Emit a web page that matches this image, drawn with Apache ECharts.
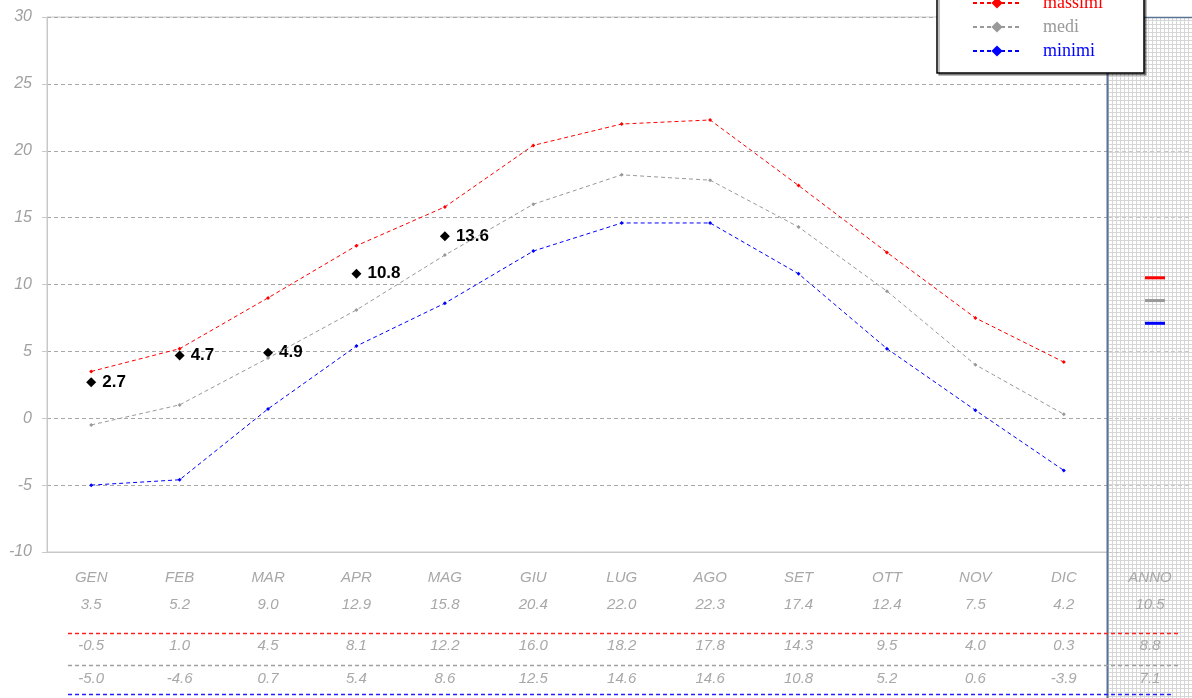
<!DOCTYPE html>
<html>
<head>
<meta charset="utf-8">
<script src="https://cdn.jsdelivr.net/npm/echarts@6/dist/echarts.min.js"></script>
<style>html,body{margin:0;padding:0;background:#fff;}#c{width:1192px;height:698px;}</style>
</head>
<body>
<div id="c"></div>
<script>
var months = ['GEN','FEB','MAR','APR','MAG','GIU','LUG','AGO','SET','OTT','NOV','DIC'];
var massimi = [3.5, 5.2, 9.0, 12.9, 15.8, 20.4, 22.0, 22.3, 17.4, 12.4, 7.5, 4.2];
var medi    = [-0.5, 1.0, 4.5, 8.1, 12.2, 16.0, 18.2, 17.8, 14.3, 9.5, 4.0, 0.3];
var minimi  = [-5.0, -4.6, 0.7, 5.4, 8.6, 12.5, 14.6, 14.6, 10.8, 5.2, 0.6, -3.9];
var extra   = [2.7, 4.7, 4.9, 10.8, 13.6];
var annoLabel = ['ANNO'];
var annoMassimi = [10.5];
var annoMedi = [8.8];
var annoMinimi = [7.1];

var pc = document.createElement('canvas');
pc.width = 4; pc.height = 4;
var pctx = pc.getContext('2d');
pctx.fillStyle = '#ffffff'; pctx.fillRect(0,0,4,4);
pctx.fillStyle = '#d6d6d6'; pctx.fillRect(0,0,4,1); pctx.fillRect(0,0,1,4);

var lblFont = {color:'#a8a8a8', fontStyle:'italic', fontSize:15, fontFamily:'Liberation Sans, Arial, sans-serif'};
function rowAxis(grid, cats, fmt, margin){
  return {type:'category', gridIndex:grid, position:'bottom', data:cats, boundaryGap:true,
    axisLine:{show:false, onZero:false}, axisTick:{show:false}, splitLine:{show:false},
    axisLabel:Object.assign({interval:0, margin:margin, formatter:fmt}, lblFont)};
}
function f1(arr){ return function(v,i){ return arr[i].toFixed(1); }; }

var chart = echarts.init(document.getElementById('c'));
chart.setOption({
  animation:false,
  backgroundColor:'#fff',
  graphic:[
    {type:'rect', z:-10, shape:{x:1107, y:17, width:85, height:681}, style:{fill:{image:pc, repeat:'repeat'}}},
    {type:'line', z:1, shape:{x1:1107.5, y1:17, x2:1107.5, y2:698}, style:{stroke:'#5b7393', lineWidth:2}},
    {type:'line', z:1, shape:{x1:1107, y1:17.5, x2:1192, y2:17.5}, style:{stroke:'#5b7393', lineWidth:1.5}},
    {type:'line', z:1, shape:{x1:68, y1:633.5, x2:1180, y2:633.5}, style:{stroke:'#ff2020', lineWidth:1.5, lineDash:[4,3]}},
    {type:'line', z:1, shape:{x1:68, y1:665.5, x2:1180, y2:665.5}, style:{stroke:'#a0a0a0', lineWidth:1.5, lineDash:[4,3]}},
    {type:'line', z:1, shape:{x1:68, y1:694.5, x2:1172, y2:694.5}, style:{stroke:'#2020ff', lineWidth:1.5, lineDash:[4,3]}}
  ],
  legend:{
    orient:'vertical', right:48, top:-16, z:20,
    padding:[10,41,13,35], itemGap:6, itemWidth:48, itemHeight:14,
    backgroundColor:'#fff', borderColor:'#000', borderWidth:1.5,
    shadowColor:'rgba(0,0,0,0.35)', shadowOffsetX:2, shadowOffsetY:2, shadowBlur:0,
    textStyle:{fontFamily:'Liberation Serif, DejaVu Serif, serif', fontSize:18, padding:[0,0,0,17]},
    data:[
      {name:'massimi', textStyle:{color:'#ff0000'}},
      {name:'medi', textStyle:{color:'#999999'}},
      {name:'minimi', textStyle:{color:'#0000ff'}}
    ]
  },
  grid:[
    {left:47, right:84, top:17, bottom:146, show:true, backgroundColor:'#fff', borderColor:'#c8c8c8', borderWidth:1},
    {left:1108, right:0, top:17, bottom:146, show:false}
  ],
  xAxis:[
    {type:'category', gridIndex:0, data:months, boundaryGap:true,
      axisLine:{show:true, onZero:false, lineStyle:{color:'#c8c8c8'}}, axisTick:{show:false},
      axisLabel:Object.assign({interval:0, margin:18}, lblFont)},
    rowAxis(0, months, f1(massimi), 45),
    rowAxis(0, months, f1(medi), 86),
    rowAxis(0, months, f1(minimi), 119),
    rowAxis(1, annoLabel, function(v){return v;}, 18),
    rowAxis(1, annoLabel, f1(annoMassimi), 45),
    rowAxis(1, annoLabel, f1(annoMedi), 86),
    rowAxis(1, annoLabel, f1(annoMinimi), 119)
  ],
  yAxis:[
    {type:'value', gridIndex:0, min:-10, max:30, interval:5,
      axisLine:{show:true, lineStyle:{color:'#c8c8c8'}},
      axisTick:{show:true, length:5, lineStyle:{color:'#c8c8c8'}},
      axisLabel:{margin:15, color:'#a0a0a0', fontStyle:'italic', fontSize:16, fontFamily:'Liberation Sans, Arial, sans-serif'},
      splitLine:{show:true, lineStyle:{color:'#a8a8a8', type:[4,3], width:1}}},
    {type:'value', gridIndex:1, min:-10, max:30, interval:5,
      axisLine:{show:false}, axisTick:{show:false}, axisLabel:{show:false},
      splitLine:{show:true, lineStyle:{color:'#c8c8c8', type:[4,3], width:1}}}
  ],
  series:[
    {name:'massimi', type:'line', data:massimi, xAxisIndex:0, yAxisIndex:0, symbol:'diamond', symbolSize:4,
      itemStyle:{color:'#ff0000'}, lineStyle:{color:'#ff0000', width:1, type:[4,3]}},
    {name:'medi', type:'line', data:medi, xAxisIndex:0, yAxisIndex:0, symbol:'diamond', symbolSize:4,
      itemStyle:{color:'#999999'}, lineStyle:{color:'#999999', width:1, type:[4,3]}},
    {name:'minimi', type:'line', data:minimi, xAxisIndex:0, yAxisIndex:0, symbol:'diamond', symbolSize:4,
      itemStyle:{color:'#0000ff'}, lineStyle:{color:'#0000ff', width:1, type:[4,3]}},
    {name:'valori', type:'scatter', data:extra, xAxisIndex:0, yAxisIndex:0, symbol:'diamond', symbolSize:10,
      itemStyle:{color:'#000', opacity:1},
      label:{show:true, position:'right', distance:6, formatter:function(p){return p.value.toFixed(1);},
        color:'#000', fontWeight:'bold', fontSize:17, fontFamily:'Liberation Sans, Arial, sans-serif'}},
    {name:'anno massimi', type:'scatter', data:annoMassimi, xAxisIndex:4, yAxisIndex:1, symbol:'rect', symbolSize:[20,3], symbolOffset:[5,0], itemStyle:{color:'#ff0000', opacity:1}},
    {name:'anno medi', type:'scatter', data:annoMedi, xAxisIndex:4, yAxisIndex:1, symbol:'rect', symbolSize:[20,3], symbolOffset:[5,0], itemStyle:{color:'#999999', opacity:1}},
    {name:'anno minimi', type:'scatter', data:annoMinimi, xAxisIndex:4, yAxisIndex:1, symbol:'rect', symbolSize:[20,3], symbolOffset:[5,0], itemStyle:{color:'#0000ff', opacity:1}}
  ]
});
</script>
</body>
</html>
